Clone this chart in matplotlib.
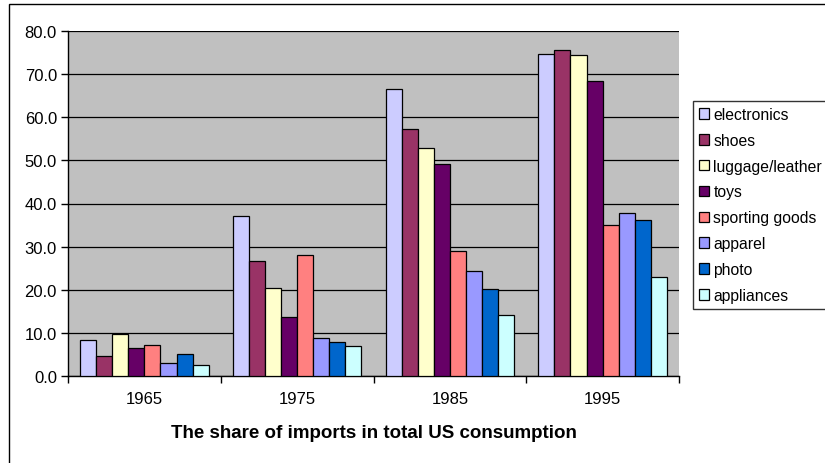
import numpy as np
from matplotlib import pyplot as plt
from matplotlib.patches import Rectangle

years = ['1965', '1975', '1985', '1995']
categories = ['electronics', 'shoes', 'luggage/leather', 'toys',
              'sporting goods', 'apparel', 'photo', 'appliances']
electronics = [8.4, 37.1, 66.7, 74.8]
shoes = [4.5, 26.6, 57.4, 75.6]
luggage = [9.6, 20.3, 53.0, 74.4]
toys = [6.4, 13.7, 49.1, 68.5]
sporting = [7.1, 28.1, 28.9, 35.0]
apparel = [3.0, 8.7, 24.3, 37.9]
photo = [5.0, 7.8, 20.1, 36.1]
appliances = [2.4, 6.8, 14.0, 23.0]

series = [electronics, shoes, luggage, toys, sporting, apparel, photo, appliances]
colors = ['#CCCCFF', '#993366', '#FFFFCC', '#660066',
          '#FF8080', '#9999FF', '#0066CC', '#CCFFFF']

plt.rcParams['font.family'] = ['Liberation Sans', 'DejaVu Sans']

W, H = 825, 464
fig = plt.figure(figsize=(W / 100, H / 100), dpi=100)
fig.patch.set_facecolor('white')

# chart area border
fig.add_artist(Rectangle((9 / W, -0.1), 1.2, 1.1 - 5 / H, transform=fig.transFigure,
                         fill=False, edgecolor='black', linewidth=1.0))

ax = fig.add_axes([68 / W, 1 - 376.7 / H, (679 - 68) / W, (376.7 - 32.3) / H])
ax.set_facecolor('#C0C0C0')

x = np.arange(len(years))
n = len(series)
bar_w = 1 / (n + 1.5)
for i, (vals, col, lab) in enumerate(zip(series, colors, categories)):
    offs = (i - (n - 1) / 2) * bar_w
    ax.bar(x + offs, vals, width=bar_w, color=col, edgecolor='black',
           linewidth=0.9, label=lab, zorder=3)

ax.set_xlim(-0.5, len(years) - 0.5)
ax.set_ylim(0, 80)
ax.set_yticks(np.arange(0, 81, 10))
ax.set_yticklabels([f'{v:.1f}' for v in np.arange(0, 81, 10)], fontsize=12)
ax.yaxis.grid(True, color='black', linewidth=0.9, zorder=0)
ax.set_axisbelow(True)

ax.set_xticks(x)
ax.set_xticklabels(years, fontsize=12)
ax.set_xticks(np.arange(-0.5, len(years)), minor=True)
ax.tick_params(axis='x', which='major', length=0, pad=11)
ax.tick_params(axis='x', which='minor', length=5, direction='out', width=1)
ax.tick_params(axis='y', length=5, direction='out', width=1, pad=3)

for side in ['top', 'right']:
    ax.spines[side].set_visible(False)
ax.spines['left'].set_linewidth(1)
ax.spines['bottom'].set_linewidth(1)

ax.set_xlabel('The share of imports in total US consumption', fontsize=13.5,
              fontweight='bold', labelpad=13)

leg = fig.legend(loc='upper left', bbox_to_anchor=(693 / W, 1 - 101.7 / H),
                 bbox_transform=fig.transFigure, fontsize=11.3, frameon=True,
                 fancybox=False, edgecolor='black', handlelength=0.65,
                 handleheight=0.65, handletextpad=0.25, labelspacing=0.69,
                 borderpad=0.4, borderaxespad=0)
leg.get_frame().set_linewidth(1)

fig.savefig('out.png', dpi=100)
